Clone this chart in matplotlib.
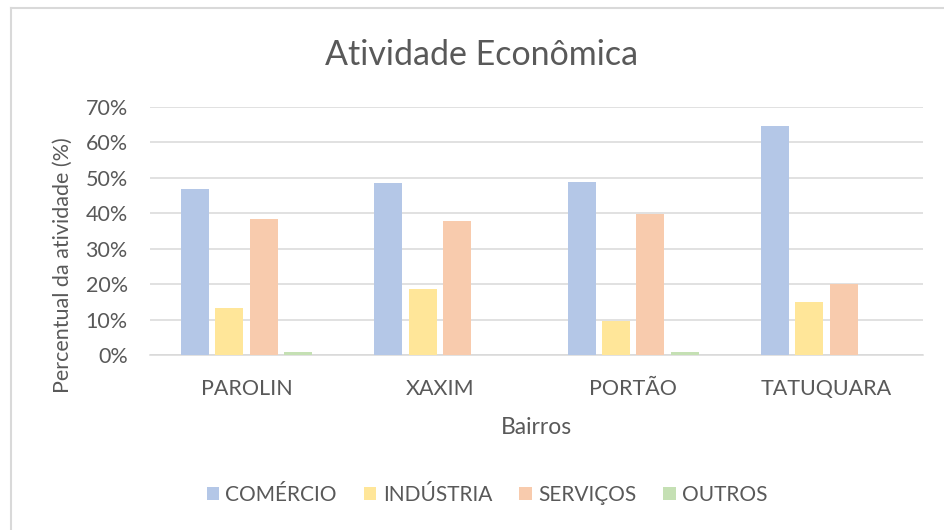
import matplotlib
matplotlib.use('Agg')
import matplotlib.pyplot as plt
import numpy as np
from matplotlib.lines import Line2D
from matplotlib.ticker import PercentFormatter

bairros = ['PAROLIN', 'XAXIM', 'PORTÃO', 'TATUQUARA']
series = ['COMÉRCIO', 'INDÚSTRIA', 'SERVIÇOS', 'OUTROS']
comercio = [46.8, 48.6, 48.9, 64.5]
industria = [13.2, 18.6, 9.7, 15.0]
servicos = [38.5, 37.7, 39.9, 20.1]
outros = [0.9, 0.0, 0.9, 0.0]
colors = ['#b4c7e7', '#ffe699', '#f8cbad', '#c5e0b4']

plt.rcParams['font.family'] = ['Lato', 'DejaVu Sans']
txt = '#595959'
grid = '#d9d9d9'
W, H = 945, 530

fig = plt.figure(figsize=(9.45, 5.3), dpi=100)
# outer chart frame, only the left and top edges are inside the crop
fig.lines.append(Line2D([11/W, 11/W], [0, 1 - 8/H], transform=fig.transFigure, color=grid, lw=1.5))
fig.lines.append(Line2D([11/W, 1], [1 - 8/H, 1 - 8/H], transform=fig.transFigure, color=grid, lw=1.5))

ax = fig.add_axes([150/W, 1 - 355.3/H, (923-150)/W, (355.3-106.7)/H])

x = np.arange(len(bairros))
step = 0.178
width = 0.145
vals = [comercio, industria, servicos, outros]
for i, (name, v, c) in enumerate(zip(series, vals, colors)):
    ax.bar(x + (i - 1.5)*step, v, width, color=c, label=name, zorder=3)

ax.set_xlim(-0.5, len(bairros) - 0.5)
ax.set_ylim(0, 70)
ax.set_yticks(np.arange(0, 71, 10))
ax.yaxis.set_major_formatter(PercentFormatter(decimals=0))
ax.grid(axis='y', color=grid, linewidth=1.1, zorder=0)
for s in ['top', 'right', 'left']:
    ax.spines[s].set_visible(False)
ax.spines['bottom'].set_color(grid)
ax.spines['bottom'].set_linewidth(1.1)
ax.tick_params(axis='both', length=0, colors=txt, labelsize=15.5)
ax.tick_params(axis='x', pad=17)
ax.tick_params(axis='y', pad=16)
ax.set_xticks(x)
ax.set_xticklabels(bairros)

fig.text(536/W, 1 - 427/H, 'Bairros', ha='center', va='center', color=txt, fontsize=16.5)
fig.text(63/W, 1 - 265/H, 'Percentual da atividade (%)', rotation=90,
         ha='center', va='center', color=txt, fontsize=15.5)
fig.text(482/W, 1 - 55/H, 'Atividade Econômica', ha='center', va='center', color=txt, fontsize=24.5)

leg = fig.legend(loc='center', bbox_to_anchor=(487/W, 1 - 495/H), ncol=4, frameon=False,
                 fontsize=15, handlelength=0.6, handleheight=0.6, handletextpad=0.3, columnspacing=1.3)
for t in leg.get_texts():
    t.set_color(txt)

fig.savefig('out.png', dpi=100)
